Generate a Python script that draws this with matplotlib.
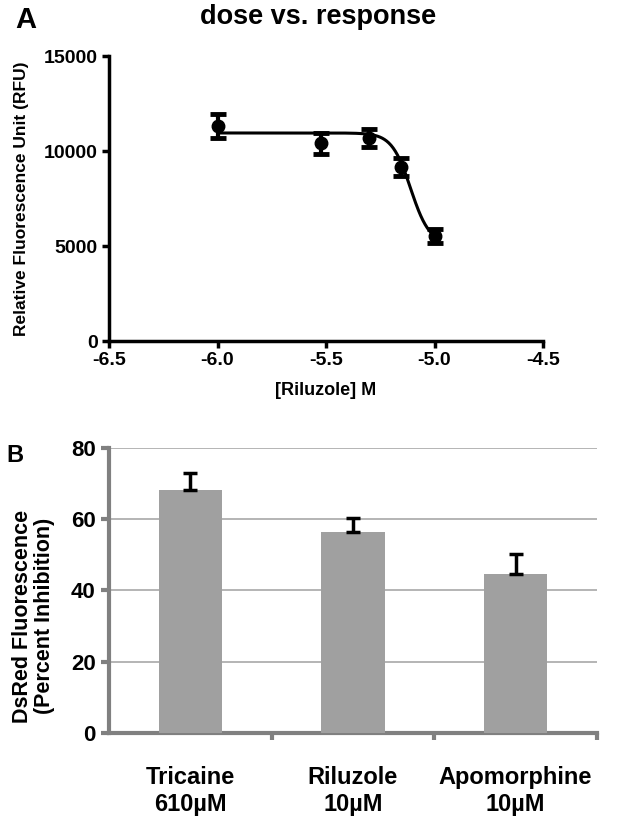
import matplotlib.pyplot as plt
import numpy as np

# panel A: dose response
conc_M = [1e-6, 3e-6, 5e-6, 7e-6, 1e-5]
rfu = [11300, 10400, 10700, 9170, 5540]
rfu_err = [630, 560, 480, 480, 380]

# fitted 4PL curve parameters
fit_top = 10950
fit_bottom = 5100
fit_logic50 = -5.11
fit_hill = 10.0

# panel B: bar chart
drugs = ['Tricaine\n610\u00b5M', 'Riluzole\n10\u00b5M', 'Apomorphine\n10\u00b5M']
inhibition = [68.1, 56.5, 44.6]
inhibition_err = [4.9, 3.9, 5.6]

plt.rcParams['font.family'] = ['Liberation Sans', 'DejaVu Sans']
plt.rcParams['font.weight'] = 'bold'

fig = plt.figure(figsize=(6.23, 8.19), dpi=100)

# ---------- A ----------
ax = fig.add_axes([0.175, 0.5836, 0.6966, 0.348])
logx = np.log10(conc_M)
xs = np.linspace(logx[0], logx[-1], 300)
ys = fit_bottom + (fit_top - fit_bottom) / (1 + 10 ** ((xs - fit_logic50) * fit_hill))
ax.plot(xs, ys, color='black', lw=2.2)
ax.errorbar(logx, rfu, yerr=rfu_err, fmt='o', color='black', ms=9,
            capsize=6, capthick=3.5, elinewidth=3)
ax.set_xlim(-6.5, -4.5)
ax.set_ylim(0, 15000)
ax.set_xticks([-6.5, -6.0, -5.5, -5.0, -4.5])
ax.set_xticklabels(['-6.5', '-6.0', '-5.5', '-5.0', '-4.5'])
ax.set_yticks([0, 5000, 10000, 15000])
for s in ['top', 'right']:
    ax.spines[s].set_visible(False)
for s in ['left', 'bottom']:
    ax.spines[s].set_linewidth(2.5)
ax.tick_params(width=2.5, length=5, labelsize=14, pad=3)
for lab in ax.get_xticklabels() + ax.get_yticklabels():
    lab.set_fontweight('bold')
ax.set_ylabel('Relative Fluorescence Unit (RFU)', fontsize=12.5, fontweight='bold')
ax.yaxis.set_label_coords(-0.185, 0.5)
ax.set_xlabel('[Riluzole] M', fontsize=13, fontweight='bold', labelpad=9)
fig.text(0.51, 0.979, 'dose vs. response', ha='center', va='center',
         fontsize=19.5, fontweight='bold')
fig.text(0.042, 0.975, 'A', ha='center', va='center', fontsize=21, fontweight='bold')

# ---------- B ----------
bx = fig.add_axes([0.175, 0.105, 0.783, 0.348])
pos = np.arange(len(drugs))
bx.bar(pos, inhibition, width=0.39, color='#a0a0a0', zorder=3)
bx.errorbar(pos, inhibition, yerr=[np.zeros(3), inhibition_err], fmt='none',
            ecolor='black', elinewidth=2.5, capsize=5, capthick=2.5, zorder=4)
bx.set_xlim(-0.5, 2.5)
bx.set_ylim(0, 80)
bx.set_yticks([0, 20, 40, 60, 80])
bx.yaxis.grid(True, color='#a8a8a8', lw=1.2, zorder=0)
for s in ['top', 'right']:
    bx.spines[s].set_visible(False)
for s in ['left', 'bottom']:
    bx.spines[s].set_linewidth(3)
    bx.spines[s].set_color('#808080')
bx.set_xticks(pos)
bx.set_xticklabels(drugs, fontsize=17, fontweight='bold', linespacing=1.2)
bx.tick_params(axis='x', length=0, pad=24)
bx.set_xticks([0.5, 1.5, 2.5], minor=True)
bx.tick_params(axis='x', which='minor', length=5, width=3, color='#808080')
bx.tick_params(axis='y', length=6, width=3, color='#808080', labelsize=16)
for lab in bx.get_yticklabels():
    lab.set_fontweight('bold')
bx.set_ylabel('DsRed Fluorescence\n(Percent Inhibition)', fontsize=15.5,
              fontweight='bold', linespacing=1.1)
bx.yaxis.set_label_coords(-0.11, 0.41)
fig.text(0.024, 0.444, 'B', ha='center', va='center', fontsize=17, fontweight='bold')

fig.savefig('out.png', dpi=100)
